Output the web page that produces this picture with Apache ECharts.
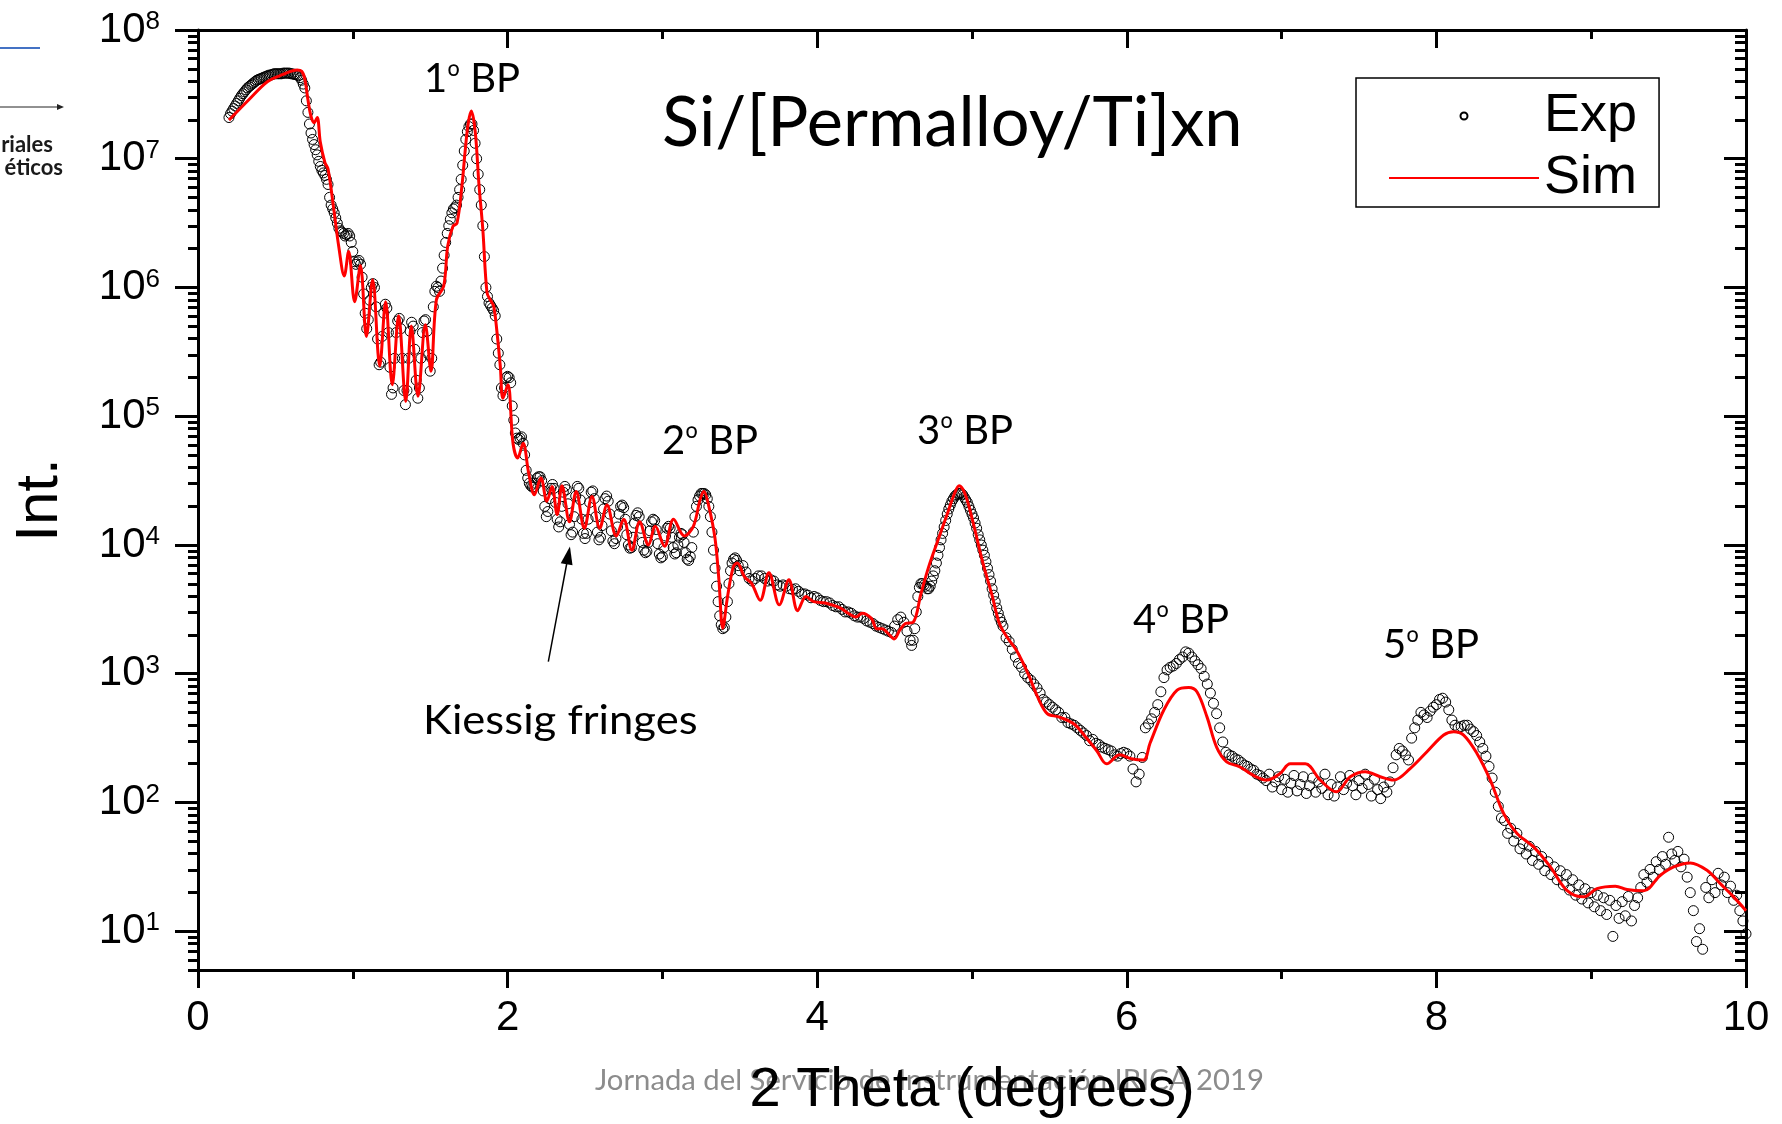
<!DOCTYPE html>
<html><head><meta charset="utf-8">
<script src="https://cdn.jsdelivr.net/npm/echarts@6/dist/echarts.min.js"></script>
<style>html,body{margin:0;padding:0;background:#fff}#c{width:1782px;height:1124px}</style>
</head><body><div id="c"></div>
<script>
// ---- axis ticks ----
const xTickValues = [0, 2, 4, 6, 8, 10];
const yMajorTicks = [1e1, 1e2, 1e3, 1e4, 1e5, 1e6, 1e7, 1e8];
const yMinorTicks = [5, 6, 7, 8, 9,
  2e1, 3e1, 4e1, 5e1, 6e1, 7e1, 8e1, 9e1,
  2e2, 3e2, 4e2, 5e2, 6e2, 7e2, 8e2, 9e2,
  2e3, 3e3, 4e3, 5e3, 6e3, 7e3, 8e3, 9e3,
  2e4, 3e4, 4e4, 5e4, 6e4, 7e4, 8e4, 9e4,
  2e5, 3e5, 4e5, 5e5, 6e5, 7e5, 8e5, 9e5,
  2e6, 3e6, 4e6, 5e6, 6e6, 7e6, 8e6, 9e6,
  2e7, 3e7, 4e7, 5e7, 6e7, 7e7, 8e7, 9e7];

// ---- Exp: 2theta (deg) and log10(intensity) ----
const expX = [
0.2,0.21,0.22,0.23,0.24,0.25,0.26,0.27,0.28,0.29,
0.3,0.31,0.32,0.33,0.34,0.35,0.36,0.37,0.38,0.39,
0.4,0.41,0.42,0.43,0.44,0.45,0.46,0.47,0.48,0.49,
0.5,0.51,0.52,0.53,0.54,0.55,0.56,0.57,0.58,0.59,
0.6,0.61,0.62,0.63,0.64,0.65,0.66,0.67,0.68,0.69,
0.7,0.71,0.72,0.73,0.74,0.75,0.76,0.77,0.78,0.79,
0.8,0.81,0.82,0.83,0.84,0.85,0.86,0.87,0.88,0.89,
0.9,0.91,0.92,0.93,0.94,0.95,0.96,0.97,0.98,0.99,
1,1.01,1.02,1.03,1.04,1.05,1.06,1.07,1.08,1.09,
1.1,1.11,1.12,1.13,1.14,1.15,1.16,1.17,1.18,1.19,
1.2,1.21,1.22,1.23,1.24,1.25,1.26,1.27,1.28,1.29,
1.3,1.31,1.32,1.33,1.34,1.35,1.36,1.37,1.38,1.39,
1.4,1.41,1.42,1.43,1.44,1.45,1.46,1.47,1.48,1.49,
1.5,1.51,1.52,1.53,1.54,1.55,1.56,1.57,1.58,1.59,
1.6,1.61,1.62,1.63,1.64,1.65,1.66,1.67,1.68,1.69,
1.7,1.71,1.72,1.73,1.74,1.75,1.76,1.77,1.78,1.79,
1.8,1.81,1.82,1.83,1.84,1.85,1.86,1.87,1.88,1.89,
1.9,1.91,1.92,1.93,1.94,1.95,1.96,1.97,1.98,1.99,
2,2.01,2.02,2.03,2.04,2.05,2.06,2.07,2.08,2.09,
2.1,2.11,2.12,2.13,2.14,2.15,2.16,2.17,2.18,2.19,
2.2,2.21,2.22,2.23,2.24,2.25,2.26,2.27,2.28,2.29,
2.3,2.31,2.32,2.33,2.34,2.35,2.36,2.37,2.38,2.39,
2.4,2.41,2.42,2.43,2.44,2.45,2.46,2.47,2.48,2.49,
2.5,2.51,2.52,2.53,2.54,2.55,2.56,2.57,2.58,2.59,
2.6,2.61,2.62,2.63,2.64,2.65,2.66,2.67,2.68,2.69,
2.7,2.71,2.72,2.73,2.74,2.75,2.76,2.77,2.78,2.79,
2.8,2.81,2.82,2.83,2.84,2.85,2.86,2.87,2.88,2.89,
2.9,2.91,2.92,2.93,2.94,2.95,2.96,2.97,2.98,2.99,
3,3.01,3.02,3.03,3.04,3.05,3.06,3.07,3.08,3.09,
3.1,3.11,3.12,3.13,3.14,3.15,3.16,3.17,3.18,3.19,
3.2,3.21,3.22,3.23,3.24,3.25,3.26,3.27,3.28,3.29,
3.3,3.31,3.32,3.33,3.34,3.35,3.36,3.37,3.38,3.39,
3.4,3.41,3.42,3.43,3.44,3.45,3.46,3.47,3.48,3.49,3.5,
3.52,3.54,3.56,3.58,3.6,3.62,3.64,3.66,3.68,3.7,
3.72,3.74,3.76,3.78,3.8,3.82,3.84,3.86,3.88,3.9,
3.92,3.94,3.96,3.98,4,4.02,4.04,4.06,4.08,4.1,
4.12,4.14,4.16,4.18,4.2,4.22,4.24,4.26,4.28,4.3,
4.32,4.34,4.36,4.38,4.4,4.42,4.44,4.46,4.48,4.5,
4.52,4.54,4.56,4.58,4.6,
4.61,4.62,4.63,4.64,4.65,4.66,4.67,4.68,4.69,4.7,
4.71,4.72,4.73,4.74,4.75,4.76,4.77,4.78,4.79,4.8,
4.81,4.82,4.83,4.84,4.85,4.86,4.87,4.88,4.89,4.9,
4.91,4.92,4.93,4.94,4.95,4.96,4.97,4.98,4.99,5,
5.01,5.02,5.03,5.04,5.05,5.06,5.07,5.08,5.09,5.1,
5.11,5.12,5.13,5.14,5.15,5.16,5.17,5.18,5.19,5.2,
5.22,5.24,5.26,5.28,5.3,5.32,5.34,5.36,5.38,5.4,
5.42,5.44,5.46,5.48,5.5,5.52,5.54,5.56,5.58,5.6,
5.62,5.64,5.66,5.68,5.7,5.72,5.74,5.76,5.78,5.8,
5.82,5.84,5.86,5.88,5.9,5.92,5.94,5.96,5.98,6,
6.02,6.04,6.06,6.08,6.1,6.12,6.14,6.16,6.18,6.2,
6.22,6.24,6.26,6.28,6.3,6.32,6.34,6.36,6.38,6.4,
6.42,6.44,6.46,6.48,6.5,6.52,6.54,6.56,6.58,6.6,
6.62,6.64,6.66,6.68,6.7,6.72,6.74,6.76,6.78,6.8,
6.82,6.84,6.86,6.88,6.9,6.92,6.94,6.96,6.98,7,
7.02,7.04,7.06,7.08,7.1,7.12,7.14,7.16,7.18,7.2,
7.22,7.24,7.26,7.28,7.3,7.32,7.34,7.36,7.38,7.4,
7.42,7.44,7.46,7.48,7.5,7.52,7.54,7.56,7.58,7.6,
7.62,7.64,7.66,7.68,7.7,7.72,7.74,7.76,7.78,7.8,
7.82,7.84,7.86,7.88,7.9,7.92,7.94,7.96,7.98,8,
8.02,8.04,8.06,8.08,8.1,8.12,8.14,8.16,8.18,8.2,
8.22,8.24,8.26,8.28,8.3,8.32,8.34,8.36,8.38,8.4,
8.42,8.44,8.46,8.48,8.5,8.52,8.54,8.56,8.58,8.6,
8.62,8.64,8.66,8.68,8.7,8.72,8.74,8.76,8.78,8.8,
8.82,8.84,8.86,8.88,8.9,8.92,8.94,8.96,8.98,9,
9.02,9.04,9.06,9.08,9.1,9.12,9.14,9.16,9.18,9.2,
9.22,9.24,9.26,9.28,9.3,9.32,9.34,9.36,9.38,9.4,
9.42,9.44,9.46,9.48,9.5,9.52,9.54,9.56,9.58,9.6,
9.62,9.64,9.66,9.68,9.7,9.72,9.74,9.76,9.78,9.8,
9.82,9.84,9.86,9.88,9.9,9.92,9.94,9.96,9.98,10];
const expLog10 = [
7.32,7.35,7.37,7.39,7.41,7.43,7.45,7.47,7.49,7.505,
7.52,7.535,7.55,7.56,7.57,7.58,7.59,7.60,7.61,7.615,
7.62,7.625,7.63,7.635,7.64,7.645,7.65,7.65,7.655,7.66,
7.66,7.66,7.66,7.66,7.66,7.665,7.665,7.665,7.665,7.665,
7.66,7.66,7.655,7.655,7.65,7.645,7.63,7.61,7.58,7.55,
7.45,7.36,7.27,7.20,7.15,7.11,7.07,7.03,6.98,6.94,
6.91,6.89,6.87,6.84,6.80,6.70,6.64,6.61,6.58,6.54,
6.50,6.46,6.44,6.43,6.42,6.40,6.41,6.42,6.40,6.35,
6.28,6.20,6.18,6.20,6.21,6.18,6.08,5.95,5.80,5.68,
5.75,5.90,6.00,6.03,6.00,5.85,5.60,5.40,5.42,5.62,
5.80,5.87,5.84,5.65,5.38,5.17,5.22,5.45,5.65,5.74,
5.76,5.68,5.45,5.20,5.09,5.20,5.45,5.66,5.73,5.70,
5.52,5.28,5.14,5.22,5.45,5.65,5.74,5.75,5.66,5.48,
5.35,5.45,5.85,5.97,6.01,6.00,5.97,6.05,6.15,6.25,
6.35,6.42,6.48,6.53,6.58,6.61,6.62,6.64,6.70,6.76,
6.84,6.95,7.06,7.15,7.21,7.25,7.27,7.27,7.22,7.12,
7.00,6.88,6.76,6.64,6.48,6.24,6.00,5.93,5.88,5.86,
5.84,5.82,5.78,5.60,5.49,5.40,5.22,5.16,5.22,5.30,
5.31,5.30,5.26,5.08,4.97,4.87,4.83,4.82,4.83,4.84,
4.79,4.70,4.58,4.52,4.48,4.46,4.45,4.45,4.48,4.52,
4.53,4.53,4.50,4.42,4.30,4.22,4.26,4.36,4.44,4.47,
4.44,4.33,4.20,4.14,4.18,4.30,4.41,4.455,4.43,4.32,
4.16,4.08,4.10,4.22,4.38,4.455,4.44,4.35,4.20,4.09,
4.05,4.09,4.20,4.33,4.41,4.42,4.36,4.22,4.10,4.04,
4.06,4.15,4.28,4.36,4.38,4.34,4.24,4.11,4.03,4.01,
4.05,4.14,4.24,4.30,4.31,4.29,4.20,4.08,4.00,3.975,
3.98,4.06,4.17,4.23,4.25,4.22,4.13,4.02,3.96,3.94,
3.95,4.02,4.11,4.18,4.20,4.19,4.12,4.01,3.93,3.90,
3.91,3.98,4.07,4.13,4.145,4.13,4.06,3.98,3.93,3.94,
4.00,4.06,4.09,4.08,4.02,3.94,3.89,3.88,3.91,3.98,
4.10,4.22,4.30,4.35,4.38,4.40,4.40,4.40,4.39,4.36,
4.30,4.22,4.10,3.96,3.82,3.68,3.56,3.45,3.38,3.35,
3.36,3.44,3.56,3.70,3.80,3.86,3.89,3.90,3.88,3.84,3.80,
3.84,3.79,3.74,3.72,3.74,3.76,3.76,3.74,3.72,3.73,
3.72,3.69,3.68,3.69,3.68,3.66,3.655,3.66,3.64,3.62,
3.62,3.61,3.59,3.60,3.59,3.57,3.56,3.56,3.55,3.53,
3.52,3.52,3.50,3.48,3.48,3.47,3.45,3.44,3.44,3.43,
3.41,3.40,3.39,3.37,3.36,3.35,3.34,3.33,3.32,3.37,
3.42,3.44,3.40,3.33,3.26,
3.22,3.26,3.35,3.48,3.60,3.67,3.70,3.70,3.69,3.68,
3.66,3.66,3.68,3.72,3.76,3.80,3.86,3.92,3.98,4.04,
4.09,4.14,4.19,4.24,4.28,4.31,4.34,4.36,4.38,4.39,
4.40,4.40,4.40,4.39,4.37,4.35,4.33,4.30,4.27,4.24,
4.21,4.17,4.13,4.08,4.04,4.00,3.96,3.92,3.87,3.82,
3.77,3.72,3.66,3.61,3.56,3.51,3.47,3.43,3.40,3.37,
3.28,3.25,3.19,3.13,3.08,3.05,3.00,2.97,2.95,2.92,
2.89,2.85,2.80,2.78,2.76,2.74,2.72,2.70,2.66,2.66,
2.62,2.61,2.60,2.58,2.56,2.54,2.52,2.48,2.49,2.46,
2.45,2.43,2.42,2.41,2.40,2.37,2.36,2.38,2.39,2.38,
2.36,2.26,2.16,2.22,2.35,2.58,2.61,2.65,2.70,2.76,
2.86,2.97,3.03,3.05,3.06,3.08,3.11,3.13,3.17,3.16,
3.13,3.10,3.07,3.04,2.98,2.92,2.85,2.77,2.69,2.58,
2.47,2.39,2.37,2.36,2.34,2.33,2.31,2.29,2.28,2.26,
2.25,2.22,2.21,2.19,2.17,2.22,2.12,2.16,2.20,2.10,
2.18,2.08,2.15,2.21,2.09,2.14,2.20,2.07,2.13,2.19,
2.08,2.16,2.11,2.22,2.06,2.14,2.05,2.12,2.20,2.10,
2.15,2.21,2.13,2.06,2.17,2.11,2.22,2.14,2.05,2.18,
2.10,2.03,2.12,2.08,2.16,2.27,2.37,2.42,2.40,2.37,
2.33,2.50,2.58,2.64,2.70,2.68,2.66,2.71,2.74,2.76,
2.80,2.81,2.78,2.72,2.64,2.60,2.58,2.59,2.60,2.60,
2.57,2.55,2.52,2.47,2.42,2.36,2.28,2.19,2.08,1.97,
1.88,1.86,1.76,1.80,1.70,1.76,1.64,1.68,1.60,1.66,
1.55,1.62,1.52,1.58,1.47,1.54,1.44,1.50,1.40,1.47,
1.36,1.44,1.32,1.40,1.28,1.36,1.25,1.33,1.22,1.30,
1.19,1.28,1.16,1.26,1.13,1.24,0.96,1.20,1.10,1.23,
1.12,1.27,1.08,1.20,1.26,1.34,1.44,1.38,1.48,1.42,
1.54,1.48,1.58,1.52,1.73,1.60,1.55,1.62,1.50,1.56,
1.42,1.30,1.16,0.92,1.02,0.86,1.34,1.26,1.40,1.30,
1.45,1.36,1.42,1.30,1.35,1.24,1.28,1.16,1.08,0.98];

// ---- Sim: 2theta (deg) and log10(intensity) ----
const simX = [0.2,0.33,0.45,0.55,0.64,0.67,0.69,0.71,0.73,0.75,0.77,0.79,0.82,0.84,0.877,0.909,0.945,0.973,1.012,1.049,1.088,1.128,1.174,1.212,1.255,1.296,1.342,1.378,1.421,1.469,1.505,1.54,1.587,1.613,1.647,1.673,1.705,1.725,1.745,1.765,1.79,1.815,1.84,1.867,1.89,1.91,1.93,1.953,1.97,2.002,2.035,2.065,2.1,2.136,2.173,2.215,2.254,2.287,2.32,2.351,2.4,2.443,2.496,2.545,2.595,2.642,2.702,2.75,2.803,2.853,2.91,2.954,3.014,3.072,3.141,3.2,3.243,3.268,3.3,3.34,3.365,3.39,3.421,3.458,3.483,3.532,3.577,3.632,3.688,3.755,3.817,3.874,3.928,3.978,4.052,4.151,4.2,4.25,4.29,4.35,4.385,4.42,4.46,4.497,4.534,4.57,4.62,4.67,4.72,4.781,4.843,4.887,4.917,4.954,5.004,5.066,5.127,5.177,5.226,5.288,5.362,5.424,5.486,5.56,5.659,5.733,5.807,5.87,5.955,6.029,6.108,6.15,6.24,6.325,6.4,6.453,6.518,6.58,6.645,6.73,6.818,6.906,6.99,7.056,7.153,7.25,7.353,7.444,7.54,7.637,7.724,7.832,7.939,8.047,8.111,8.176,8.262,8.348,8.434,8.521,8.628,8.736,8.843,8.951,9.037,9.156,9.231,9.339,9.447,9.533,9.64,9.748,9.834,9.92,10];
const simLog10 = [7.30,7.46,7.60,7.655,7.69,7.68,7.62,7.46,7.33,7.28,7.32,7.13,6.97,6.92,6.61,6.32,6.09,6.28,5.89,6.17,5.62,6.06,5.39,5.89,5.245,5.78,5.115,5.70,5.155,5.71,5.35,5.905,6.01,6.32,6.476,6.50,6.79,7.05,7.27,7.37,7.22,6.80,6.45,5.96,5.90,5.855,5.67,5.385,5.14,5.245,4.79,4.675,4.79,4.56,4.39,4.52,4.34,4.455,4.235,4.46,4.18,4.416,4.13,4.377,4.13,4.31,4.07,4.20,3.96,4.18,4.00,4.145,3.99,4.20,4.07,4.145,4.35,4.415,4.30,4.05,3.73,3.353,3.60,3.83,3.86,3.75,3.70,3.57,3.785,3.535,3.73,3.49,3.60,3.56,3.55,3.51,3.47,3.44,3.47,3.43,3.35,3.35,3.31,3.27,3.34,3.39,3.40,3.62,3.83,4.04,4.25,4.40,4.46,4.40,4.19,3.88,3.62,3.39,3.285,3.18,3.00,2.82,2.69,2.665,2.61,2.51,2.40,2.30,2.37,2.34,2.33,2.46,2.72,2.873,2.893,2.86,2.665,2.43,2.316,2.277,2.21,2.174,2.226,2.30,2.30,2.174,2.083,2.20,2.239,2.20,2.174,2.265,2.394,2.524,2.55,2.524,2.381,2.174,1.915,1.759,1.655,1.50,1.318,1.267,1.331,1.35,1.324,1.314,1.435,1.50,1.531,1.474,1.37,1.267,1.16];

// ---- annotation (arrow pointing at the Kiessig fringes, in data units) ----
const arrowFrom = [2.263, 1240];
const arrowTo = [2.392, 8300];

const seriesNames = ['Exp', 'Sim'];

const expData = expX.map((x, i) => [x, Math.pow(10, expLog10[i])]);
const simData = simX.map((x, i) => [x, Math.pow(10, simLog10[i])]);

const chart = echarts.init(document.getElementById('c'), null, {renderer: 'canvas'});
const AX = 'Liberation Sans, Arial, sans-serif';
const CAL = 'Lato, Carlito, sans-serif';

const yBase = {
  type: 'log', logBase: 10, min: 5, max: 1e8,
  splitLine: {show: false}, minorSplitLine: {show: false}
};

function bp(n) {
  return {
    text: '{a|' + n + '}{o|º}{a| BP}',
    rich: {
      a: {fontSize: 40, fontFamily: CAL, fill: '#000', lineHeight: 40},
      o: {fontSize: 34, fontFamily: 'Open Sans, Noto Sans, sans-serif', fill: '#000', lineHeight: 40}
    },
    verticalAlign: 'top'
  };
}

const option = {
  animation: false,
  backgroundColor: '#fff',
  grid: {left: 198, right: 36, top: 30, bottom: 154, containLabel: false, outerBoundsMode: 'none'},
  legend: {
    orient: 'vertical', left: 1356, top: 78,
    data: [
      {name: 'Exp', icon: 'circle'},
      {name: 'Sim', itemStyle: {color: 'rgba(0,0,0,0)', borderWidth: 0, opacity: 0}}
    ],
    itemWidth: 150, itemHeight: 7, itemGap: 8,
    padding: [11, 22, 2, 32],
    borderColor: '#000', borderWidth: 1.5,
    textStyle: {fontSize: 54, fontFamily: AX, color: '#000'},
    selectedMode: false
  },
  xAxis: [
    {type: 'value', min: 0, max: 10, interval: 2, position: 'bottom',
     axisLine: {show: true, lineStyle: {color: '#000', width: 3}},
     axisTick: {show: true, length: 18, lineStyle: {color: '#000', width: 3}},
     minorTick: {show: true, splitNumber: 2, length: 9, lineStyle: {color: '#000', width: 3}},
     axisLabel: {customValues: xTickValues, fontSize: 42, fontFamily: AX, color: '#000', margin: 27},
     splitLine: {show: false}, minorSplitLine: {show: false},
     name: '2 Theta (degrees)', nameLocation: 'middle', nameGap: 93,
     nameTextStyle: {fontSize: 56, fontFamily: AX, color: '#000'}},
    {type: 'value', min: 0, max: 10, interval: 2, position: 'top',
     axisLine: {show: true, lineStyle: {color: '#000', width: 3}},
     axisTick: {show: true, inside: true, length: 18, lineStyle: {color: '#000', width: 3}},
     minorTick: {show: true, splitNumber: 2, length: 9, lineStyle: {color: '#000', width: 3}},
     axisLabel: {show: false}, splitLine: {show: false}, minorSplitLine: {show: false}}
  ],
  yAxis: [
    Object.assign({}, yBase, {position: 'left',
      axisLine: {show: true, lineStyle: {color: '#000', width: 3}},
      axisTick: {show: true, length: 23, customValues: yMajorTicks, lineStyle: {color: '#000', width: 3}},
      axisLabel: {customValues: yMajorTicks, margin: 38,
        formatter: v => '{b|10}{s|' + Math.round(Math.log10(v)) + '}',
        rich: {
          b: {fontSize: 42, fontFamily: AX, color: '#000', lineHeight: 42},
          s: {fontSize: 26, fontFamily: AX, color: '#000', lineHeight: 15, verticalAlign: 'top'}
        }},
      name: 'Int.', nameLocation: 'middle', nameGap: 128, nameRotate: 90,
      nameTextStyle: {fontSize: 60, fontFamily: AX, color: '#000'}}),
    Object.assign({}, yBase, {position: 'left',
      axisLine: {show: false},
      axisTick: {show: true, length: 10, customValues: yMinorTicks, lineStyle: {color: '#000', width: 3}},
      axisLabel: {show: false}}),
    Object.assign({}, yBase, {position: 'right',
      axisLine: {show: true, lineStyle: {color: '#000', width: 3}},
      axisTick: {show: true, inside: true, length: 22, customValues: yMajorTicks, lineStyle: {color: '#000', width: 3}},
      axisLabel: {show: false}}),
    Object.assign({}, yBase, {position: 'right',
      axisLine: {show: false},
      axisTick: {show: true, inside: true, length: 11, customValues: yMinorTicks, lineStyle: {color: '#000', width: 3}},
      axisLabel: {show: false}})
  ],
  series: [
    {name: seriesNames[0], type: 'scatter', xAxisIndex: 0, yAxisIndex: 0,
     data: expData, symbol: 'circle', symbolSize: 10, z: 2,
     itemStyle: {color: 'rgba(255,255,255,0)', borderColor: '#000', borderWidth: 1, opacity: 1},
     emphasis: {disabled: true},
     markLine: {silent: true, animation: false, symbol: ['none', 'triangle'], symbolSize: [12, 18],
       lineStyle: {color: '#000', width: 1.5, type: 'solid'}, label: {show: false},
       emphasis: {disabled: true},
       data: [[{coord: arrowFrom}, {coord: arrowTo}]]}},
    {name: seriesNames[1], type: 'line', xAxisIndex: 0, yAxisIndex: 0,
     data: simData, showSymbol: false, symbol: 'none', smooth: 0.35, z: 3,
     lineStyle: {color: '#ff0000', width: 3}, itemStyle: {color: '#ff0000'},
     emphasis: {disabled: true}}
  ],
  graphic: [
    {type: 'line', shape: {x1: 0, y1: 48, x2: 40, y2: 48}, style: {stroke: '#4472c4', lineWidth: 2}},
    {type: 'line', shape: {x1: 0, y1: 107, x2: 59, y2: 107}, style: {stroke: '#222', lineWidth: 1}},
    {type: 'polygon', shape: {points: [[57, 104], [64, 107], [57, 110]]}, style: {fill: '#222'}},
    {type: 'text', x: 53, y: 134, style: {text: 'riales', fontSize: 22, fontWeight: 'bold', fontFamily: CAL, fill: '#1a1a1a', align: 'right', verticalAlign: 'top'}},
    {type: 'text', x: 63, y: 157, style: {text: 'éticos', fontSize: 22, fontWeight: 'bold', fontFamily: CAL, fill: '#1a1a1a', align: 'right', verticalAlign: 'top'}},
    {type: 'text', x: 662, y: 88, scaleX: 0.98, style: {text: 'Si/[Permalloy/Ti]xn', fontSize: 70, fontFamily: CAL, fill: '#000', verticalAlign: 'top'}},
    {type: 'text', x: 424, y: 59, style: bp(1)},
    {type: 'text', x: 662, y: 421, style: bp(2)},
    {type: 'text', x: 917, y: 411, style: bp(3)},
    {type: 'text', x: 1133, y: 600, style: bp(4)},
    {type: 'text', x: 1383, y: 625, style: bp(5)},
    {type: 'text', x: 423, y: 701, scaleX: 1.09, style: {text: 'Kiessig fringes', fontSize: 40, fontFamily: CAL, fill: '#000', verticalAlign: 'top'}},
    {type: 'text', x: 595, y: 1067, z: -10, scaleX: 1.045, style: {text: 'Jornada del Servicio de Instrumentación IRICA 2019', fontSize: 28, fontFamily: CAL, fill: '#8c8c8c', verticalAlign: 'top'}}
  ]
};
chart.setOption(option);
</script>
</body></html>
